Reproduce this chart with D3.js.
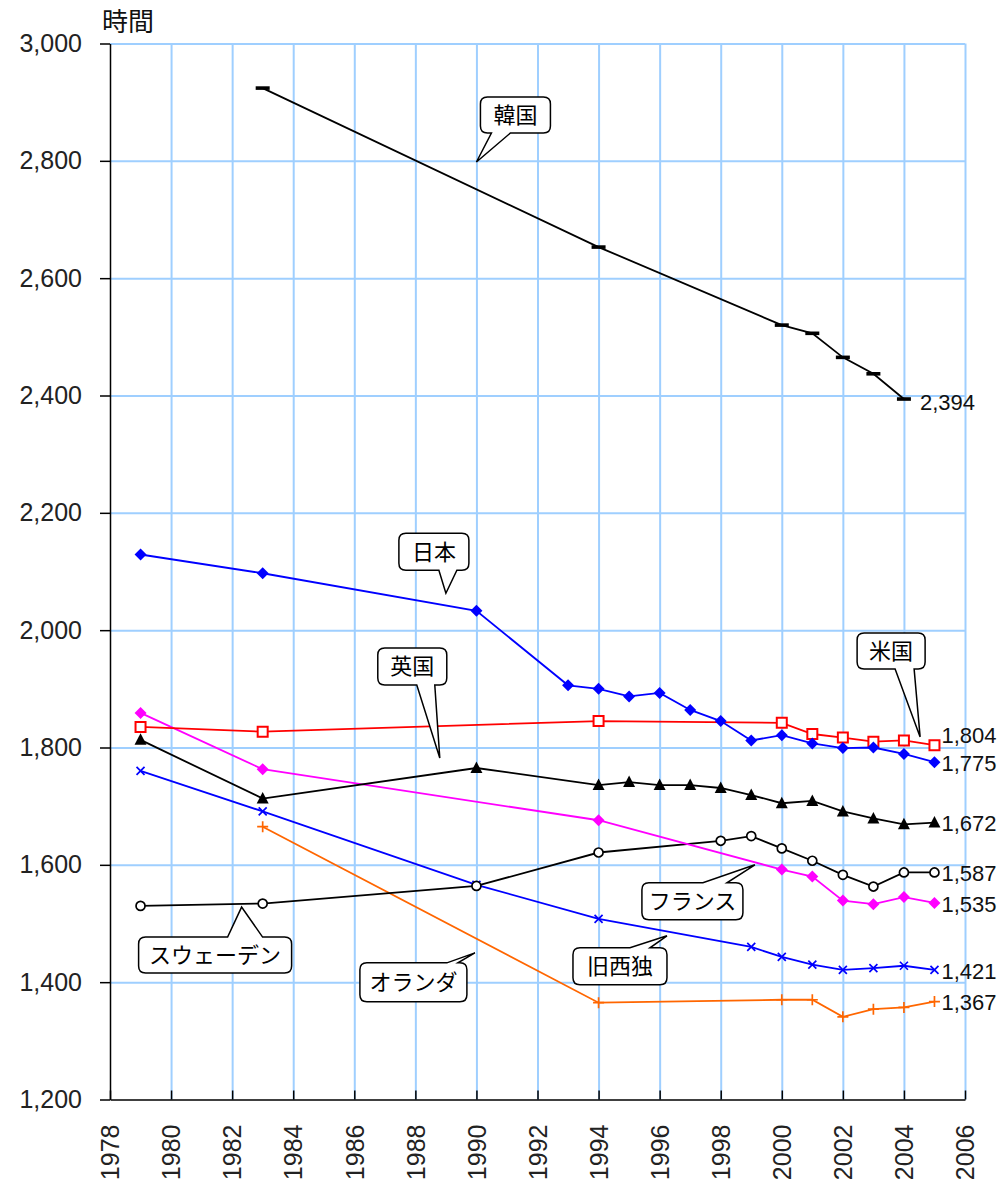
<!DOCTYPE html>
<html>
<head>
<meta charset="utf-8">
<script src="https://cdn.jsdelivr.net/npm/d3@7"></script>
<style>
  body { margin: 0; background: #fff; }
  svg { display: block; }
</style>
</head>
<body>
<div id="chart"></div>
<script>
// Annual working hours per worker, by country
var yearsKorea = [1983, 1994, 2000, 2001, 2002, 2003, 2004];
var hoursKorea = [2924, 2653, 2520, 2506, 2465, 2437, 2394];

var yearsJapan = [1979, 1983, 1990, 1993, 1994, 1995, 1996, 1997, 1998, 1999, 2000, 2001, 2002, 2003, 2004, 2005];
var hoursJapan = [2129, 2097, 2033, 1906, 1900, 1887, 1893, 1864, 1845, 1812, 1821, 1807, 1799, 1800, 1789, 1775];

var yearsUS = [1979, 1983, 1994, 2000, 2001, 2002, 2003, 2004, 2005];
var hoursUS = [1835, 1827, 1845, 1842, 1823, 1817, 1810, 1812, 1804];

var yearsUK = [1979, 1983, 1990, 1994, 1995, 1996, 1997, 1998, 1999, 2000, 2001, 2002, 2003, 2004, 2005];
var hoursUK = [1813, 1713, 1765, 1736, 1741, 1736, 1736, 1731, 1719, 1705, 1709, 1691, 1679, 1669, 1672];

var yearsFrance = [1979, 1983, 1994, 2000, 2001, 2002, 2003, 2004, 2005];
var hoursFrance = [1859, 1763, 1676, 1592, 1580, 1539, 1533, 1545, 1535];

var yearsSweden = [1979, 1983, 1990, 1994, 1998, 1999, 2000, 2001, 2002, 2003, 2004, 2005];
var hoursSweden = [1530, 1534, 1564, 1621, 1641, 1649, 1628, 1607, 1583, 1563, 1587, 1587];

var yearsWGermany = [1979, 1983, 1990, 1994, 1999, 2000, 2001, 2002, 2003, 2004, 2005];
var hoursWGermany = [1760, 1691, 1566, 1508, 1460, 1443, 1430, 1421, 1424, 1428, 1421];

var yearsNetherlands = [1983, 1994, 2000, 2001, 2002, 2003, 2004, 2005];
var hoursNetherlands = [1665, 1365, 1370, 1370, 1341, 1354, 1357, 1367];

var yTicks = [1200, 1400, 1600, 1800, 2000, 2200, 2400, 2600, 2800, 3000];
var xTicks = [1978, 1980, 1982, 1984, 1986, 1988, 1990, 1992, 1994, 1996, 1998, 2000, 2002, 2004, 2006];

// series table built from the arrays above (drawing order: last on top)
var series = [
  {name: "韓国", years: yearsKorea, hours: hoursKorea, color: "#000000", marker: "dash"},
  {name: "オランダ", years: yearsNetherlands, hours: hoursNetherlands, color: "#ff6600", marker: "plus"},
  {name: "旧西独", years: yearsWGermany, hours: hoursWGermany, color: "#0000ff", marker: "x"},
  {name: "スウェーデン", years: yearsSweden, hours: hoursSweden, color: "#000000", marker: "circle"},
  {name: "フランス", years: yearsFrance, hours: hoursFrance, color: "#ff00ff", marker: "diamond"},
  {name: "英国", years: yearsUK, hours: hoursUK, color: "#000000", marker: "triangle"},
  {name: "米国", years: yearsUS, hours: hoursUS, color: "#ff0000", marker: "square"},
  {name: "日本", years: yearsJapan, hours: hoursJapan, color: "#0000ff", marker: "diamond"}
];

// callout bubbles: tip in data units, box and tail base in px relative to the tip
var callouts = [
  {text: "韓国", year: 1990, hours: 2798, box: [4, 74, -65, -29], side: "bottom", base: [15, 34]},
  {text: "日本", year: 1989, hours: 2063, box: [-47, 23, -60, -23], side: "bottom", base: [-7, 11]},
  {text: "英国", year: 1988.8, hours: 1782, box: [-62, 7, -110, -73], side: "bottom", base: [-23, -5]},
  {text: "米国", year: 2004.53, hours: 1818, box: [-63, 5, -104, -68], side: "bottom", base: [-25, -6]},
  {text: "スウェーデン", year: 1982.31, hours: 1528, box: [-103, 50, 30, 66], side: "top", base: [-14, 21]},
  {text: "オランダ", year: 1989.95, hours: 1450, box: [-115, -8, 10, 49], side: "top", base: [-28, -17]},
  {text: "旧西独", year: 1996.24, hours: 1479, box: [-94, 0, 12, 49], side: "top", base: [-37, -17]},
  {text: "フランス", year: 1999.12, hours: 1600, box: [-113, -12, 18, 55], side: "top", base: [-52, -28]}
];

var width = 1003, height = 1186;
var plot = {left: 110, right: 965, top: 43.5, bottom: 1099.5};

var svg = d3.select("#chart").append("svg")
  .attr("width", width)
  .attr("height", height)
  .style("background", "#fff");

var x = d3.scaleLinear().domain([1978, 2006]).range([plot.left, plot.right]);
var y = d3.scaleLinear().domain([1200, 3000]).range([plot.bottom, plot.top]);

// Grid lines
svg.append("g")
  .attr("transform", "translate(0," + plot.bottom + ")")
  .call(d3.axisBottom(x).tickValues(xTicks.slice(1)).tickSize(-(plot.bottom - plot.top)).tickFormat(""))
  .call(function(g) { g.select(".domain").remove(); })
  .selectAll("line").attr("stroke", "#9fcfff").attr("stroke-width", 2);

svg.append("g")
  .attr("transform", "translate(" + plot.left + ",0)")
  .call(d3.axisLeft(y).tickValues(yTicks.slice(1)).tickSize(-(plot.right - plot.left)).tickFormat(""))
  .call(function(g) { g.select(".domain").remove(); })
  .selectAll("line").attr("stroke", "#9fcfff").attr("stroke-width", 2);

// Y axis
var yAxis = svg.append("g")
  .attr("transform", "translate(" + plot.left + ",0)")
  .call(d3.axisLeft(y).tickValues(yTicks).tickFormat(d3.format(",")).tickSize(10).tickSizeOuter(0).tickPadding(18));
yAxis.select(".domain").attr("stroke", "#000").attr("stroke-width", 1.5);
yAxis.selectAll(".tick line").attr("stroke", "#000").attr("stroke-width", 1.5);
yAxis.selectAll("text")
  .attr("fill", "#222")
  .style("font", "25px 'Liberation Sans', Arial, sans-serif");

// X axis (ticks point into the plot, labels turned upright)
var xAxis = svg.append("g")
  .attr("transform", "translate(0," + plot.bottom + ")")
  .call(d3.axisBottom(x).tickValues(xTicks).tickFormat(d3.format("d")).tickSizeInner(-9).tickSizeOuter(0));
xAxis.select(".domain").attr("stroke", "#000").attr("stroke-width", 1.5);
xAxis.selectAll(".tick line").attr("stroke", "#000").attr("stroke-width", 1.5);
xAxis.selectAll("text")
  .attr("fill", "#222")
  .attr("transform", "translate(0,25) rotate(-90)")
  .attr("x", 0)
  .attr("y", 0)
  .attr("dy", "0.35em")
  .style("text-anchor", "end")
  .style("font", "25px 'Liberation Sans', Arial, sans-serif");

// Y axis title
svg.append("text")
  .attr("x", 102)
  .attr("y", 31)
  .attr("fill", "#111")
  .style("font", "26px 'Noto Sans CJK JP', sans-serif")
  .text("時間");

// marker shapes, centred on 0,0
function markerPath(type) {
  switch (type) {
    case "diamond": return "M0,-6L6,0L0,6L-6,0Z";
    case "square": return "M-5,-5H5V5H-5Z";
    case "triangle": return "M0,-6.5L6,5L-6,5Z";
    case "circle": return "M4.5,0A4.5,4.5 0 1,1 -4.5,0A4.5,4.5 0 1,1 4.5,0Z";
    case "x": return "M-4,-4L4,4M-4,4L4,-4";
    case "plus": return "M-5.5,0H5.5M0,-5.5V5.5";
    case "dash": return "M-7,-1.8H7V1.8H-7Z";
  }
}

var line = d3.line()
  .x(function(d) { return x(d.year); })
  .y(function(d) { return y(d.hours); });

series.forEach(function(s) {
  var pts = s.years.map(function(yr, i) { return {year: yr, hours: s.hours[i]}; });
  var g = svg.append("g");

  g.append("path")
    .datum(pts)
    .attr("fill", "none")
    .attr("stroke", s.color)
    .attr("stroke-width", 1.8)
    .attr("d", line);

  var open = (s.marker === "square" || s.marker === "circle");
  var stroked = open || s.marker === "x" || s.marker === "plus";
  g.selectAll("path.mark")
    .data(pts)
    .enter().append("path")
      .attr("class", "mark")
      .attr("transform", function(d) { return "translate(" + x(d.year) + "," + y(d.hours) + ")"; })
      .attr("d", markerPath(s.marker))
      .attr("fill", open ? "#fff" : (stroked ? "none" : s.color))
      .attr("stroke", stroked ? s.color : "none")
      .attr("stroke-width", s.marker === "square" ? 2 : 1.7);
});

// value labels at the end of each line
var labelShift = {"米国": -10, "韓国": 3};
series.forEach(function(s) {
  var n = s.years.length - 1;
  var gap = s.marker === "dash" ? 16 : 7;
  svg.append("text")
    .attr("x", x(s.years[n]) + gap)
    .attr("y", y(s.hours[n]) + (labelShift[s.name] || 1))
    .attr("dy", "0.35em")
    .attr("fill", "#111")
    .style("font", "22px 'Liberation Sans', Arial, sans-serif")
    .text(d3.format(",")(s.hours[n]));
});

// callout bubbles
function calloutPath(tx, ty, c) {
  var x0 = tx + c.box[0], x1 = tx + c.box[1], y0 = ty + c.box[2], y1 = ty + c.box[3];
  var b0 = tx + c.base[0], b1 = tx + c.base[1], r = 7;
  var p = "M" + (x0 + r) + "," + y0;
  if (c.side === "top") p += "L" + b0 + "," + y0 + "L" + tx + "," + ty + "L" + b1 + "," + y0;
  p += "L" + (x1 - r) + "," + y0 + "Q" + x1 + "," + y0 + " " + x1 + "," + (y0 + r);
  p += "L" + x1 + "," + (y1 - r) + "Q" + x1 + "," + y1 + " " + (x1 - r) + "," + y1;
  if (c.side === "bottom") p += "L" + b1 + "," + y1 + "L" + tx + "," + ty + "L" + b0 + "," + y1;
  p += "L" + (x0 + r) + "," + y1 + "Q" + x0 + "," + y1 + " " + x0 + "," + (y1 - r);
  p += "L" + x0 + "," + (y0 + r) + "Q" + x0 + "," + y0 + " " + (x0 + r) + "," + y0 + "Z";
  return p;
}

callouts.forEach(function(c) {
  var tx = x(c.year), ty = y(c.hours);
  svg.append("path")
    .attr("d", calloutPath(tx, ty, c))
    .attr("fill", "#fff")
    .attr("stroke", "#000")
    .attr("stroke-width", 1.5);
  svg.append("text")
    .attr("x", tx + (c.box[0] + c.box[1]) / 2)
    .attr("y", ty + (c.box[2] + c.box[3]) / 2)
    .attr("dy", "0.36em")
    .attr("text-anchor", "middle")
    .attr("fill", "#000")
    .style("font", "22px 'Noto Sans CJK JP', sans-serif")
    .text(c.text);
});
</script>
</body>
</html>
